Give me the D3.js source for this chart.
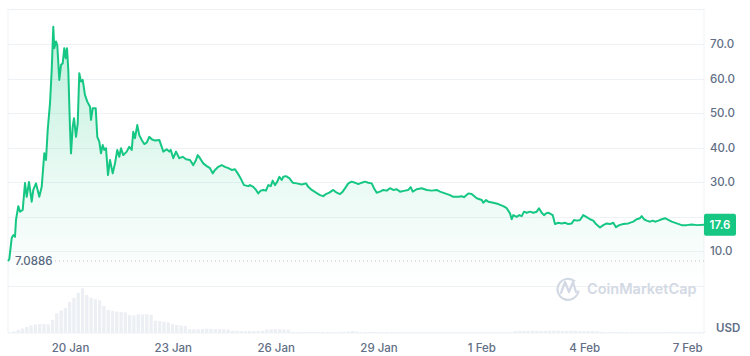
<!DOCTYPE html>
<html><head><meta charset="utf-8">
<script src="https://cdn.jsdelivr.net/npm/d3@7"></script>
<style>
body{margin:0;background:#fff}
svg{display:block;font-family:Inter,"Noto Sans",sans-serif}
</style>
</head><body>
<svg id="c" width="750" height="356"></svg>
<script>
// ---- data ----
const startTime = "2025-01-18T04:07:00Z";
const hoursFromStart = [0.5,1.4,3.1,4.2,5.4,6.1,7.7,8.9,10.8,12.4,13.6,15.2,17.1,18.2,20.1,22.4,24.1,25.9,27.1,28.3,29.9,31.1,32.2,32.9,34.1,35.0,36.4,37.6,38.8,39.9,40.9,41.8,42.7,43.9,44.6,45.8,46.7,48.1,49.3,50.4,51.6,52.8,54.4,56.0,57.9,58.6,59.8,61.9,63.0,64.4,
65.6,66.8,67.9,69.1,70.5,71.9,73.8,75.4,77.0,78.4,79.6,81.2,83.6,85.4,87.1,88.2,89.4,91.0,92.4,94.1,95.9,97.6,99.4,101.1,103.4,106.4,108.1,109.2,111.6,113.4,114.4,116.2,118.1,120.4,122.8,125.1,127.9,130.2,132.1,133.3,134.9,137.2,139.6,141.9,143.8,145.4,147.7,150.1,152.4,154.7,157.1,159.4,161.3,162.9,165.7,168.7,
169.9,172.2,174.1,175.7,177.4,179.2,181.1,182.7,184.4,185.8,187.4,189.0,190.4,192.1,193.2,195.1,197.4,199.8,202.6,206.1,209.1,210.7,213.1,216.1,218.9,221.2,223.1,225.4,228.2,230.6,232.9,234.8,237.1,238.7,241.1,243.4,245.7,248.1,250.4,252.7,255.1,256.7,258.6,260.9,263.2,265.6,267.9,270.2,272.6,274.9,278.4,280.7,282.4,283.8,286.6,290.1,293.6,297.1,300.6,302.9,306.4,309.9,312.2,315.7,318.1,319.7,322.7,325.1,
328.6,332.1,333.2,335.1,336.7,340.2,343.7,347.2,349.6,351.9,353.1,354.2,356.6,358.4,360.1,361.7,363.6,365.9,368.2,370.6,372.2,374.1,375.7,377.1,378.7,381.8,383.4,385.7,388.1,390.4,392.7,395.1,396.7,399.0,400.9,403.2,405.6,407.9,410.2,412.1,414.9,417.2,419.6,421.9,424.2,426.1,428.4,431.2,434.7,438.2,440.6,442.9,444.1,445.7,447.6,449.9,451.8,453.4,455.7,458.1,460.4,462.7,465.1,468.6,472.1,475.6,479.1,482.6,487.7];
const price = [7.0886,7.6,13.8,14.6,14.1,19.0,23.0,21.4,21.9,29.7,25.7,30.0,24.3,27.7,29.6,25.7,28.6,38.3,36.4,45.1,52.8,62.5,75.0,68.8,70.7,69.7,59.6,63.9,64.4,68.8,65.9,68.8,62.5,45.6,38.3,46.0,48.5,43.1,47.0,61.5,59.1,59.6,55.2,53.3,51.8,48.0,51.4,51.4,43.1,41.7,
38.3,40.7,39.3,39.8,32.0,36.4,32.5,35.4,39.3,37.3,39.8,37.8,38.8,40.2,39.3,44.6,42.7,46.5,43.6,42.2,41.0,41.4,43.1,42.4,42.0,42.2,40.2,38.8,39.5,38.8,39.3,36.9,38.8,36.9,37.3,36.6,36.4,34.9,36.4,37.8,36.9,35.4,34.6,34.0,32.5,33.5,34.4,34.9,34.4,34.0,33.5,33.7,32.5,31.4,29.1,28.8,
29.1,28.6,27.7,26.7,27.5,27.7,27.5,29.1,28.8,30.4,29.1,30.1,31.5,30.6,31.5,31.7,31.1,29.8,29.6,29.3,29.6,28.6,27.7,26.9,26.2,25.9,26.5,26.9,27.7,26.9,26.5,27.2,28.6,29.6,30.1,29.8,29.4,29.8,30.1,29.8,29.6,28.2,26.9,27.2,27.7,27.5,28.2,27.7,27.9,27.2,27.5,27.7,28.5,27.2,27.9,28.2,27.7,27.5,27.7,27.2,26.7,26.2,25.7,25.7,25.9,25.6,26.7,26.5,
25.3,24.8,24.0,24.8,24.3,24.0,23.6,23.0,22.4,20.9,19.2,20.4,19.9,20.4,20.1,21.4,21.1,21.4,21.1,21.4,22.4,21.1,20.4,20.9,21.1,20.4,17.8,18.2,18.0,18.2,17.8,18.0,19.0,18.8,19.0,20.4,19.8,19.2,18.8,17.8,16.8,17.5,18.0,17.8,18.2,16.9,17.5,17.8,18.0,18.5,19.2,19.5,20.1,19.2,18.8,18.5,18.8,18.5,18.8,19.2,19.5,19.0,18.5,18.0,17.5,17.5,17.7,17.5,17.6];
// volume per 3-hour bin (relative units)
const volumeBinHours = 3;
const volume = [0.5,1.5,3,4.5,6,7.5,8.5,9,9,8.5,
13,19.5,22.5,25,31,35,40,44.5,38,35,
33.5,32.5,27,23,22,21.3,21,20.5,18,17.5,
18.7,18.5,18.7,18.2,12.3,11.8,11.2,10.5,9,8,
7.5,7,3.7,3.7,3.6,4,4.3,4.2,4,3.8,
3.7,3.5,2.3,2.2,2,2.1,2,1.9,2,2.2,
3.5,3.7,3.8,3.7,3.5,3.2,1.2,1,1.1,1,
1,0.9,1,1.1,1,1,0.9,1,1.2,1.5,
2,1.5,1,1,1.1,1,0.9,1,1,1,
1,0.9,0.7,0.7,0.8,0.7,0.7,0.6,0.7,0.7,
0.8,0.7,0.7,0.7,0.6,0.7,0.7,0.8,0.7,0.7,
0.7,0.7,0.6,0.7,0.7,0.8,0.8,0.9,2,2.2,
2.1,2,2.3,2.2,2,2.1,2.3,2.4,2.2,2,
2.1,2.3,2.2,2,1.9,2.1,2,1.8,1.1,1,
1,0.9,1,1.1,1,1,0.9,1,1,1.1,
1,1,0.9,1,1,1.2,1.1,1,1,1,
0.9,1,1];
const yTicks = [10,20,30,40,50,60,70];
const xTickDates = ["2025-01-20","2025-01-23","2025-01-26","2025-01-29","2025-02-01","2025-02-04","2025-02-07"];
const openPrice = 7.0886;
const lastPrice = 17.6;
const currencyLabel = "USD";
const watermark = "CoinMarketCap";

// ---- layout ----
const W = 750, H = 356;
const L = 8, R = 704, T = 9.5, B = 333;
const priceBottom = 285.5;
const green = "#16c784";
const grid = "#eff2f5";
const txt = "#616e85";

const t0 = new Date(startTime);
const toDate = h => new Date(t0.getTime() + h * 3600e3);
const data = hoursFromStart.map((h, i) => ({t: toDate(h), v: price[i]}));

const x = d3.scaleUtc()
  .domain([toDate(hoursFromStart[0]), toDate(hoursFromStart[hoursFromStart.length - 1])])
  .range([L, R]);
const y = d3.scaleLinear().domain([0, 80]).range([priceBottom, T]);
const yv = d3.scaleLinear().domain([0, d3.max(volume)]).range([B, 288.3]);

const svg = d3.select("#c");
const defs = svg.append("defs");
const grad = defs.append("linearGradient").attr("id", "fillg")
  .attr("gradientUnits", "userSpaceOnUse").attr("x1", 0).attr("x2", 0)
  .attr("y1", y(75)).attr("y2", priceBottom);
grad.append("stop").attr("offset", 0).attr("stop-color", green).attr("stop-opacity", 0.28);
grad.append("stop").attr("offset", 0.6).attr("stop-color", green).attr("stop-opacity", 0.09);
grad.append("stop").attr("offset", 1).attr("stop-color", green).attr("stop-opacity", 0.0);

// frame
svg.append("rect").attr("x", L).attr("y", T).attr("width", R - L).attr("height", B - T)
  .attr("fill", "none").attr("stroke", grid).attr("stroke-width", 1);

// gridlines
svg.append("g").selectAll("line").data(yTicks.concat([0])).join("line")
  .attr("x1", L).attr("x2", R).attr("y1", d => Math.round(y(d)) + 0.5).attr("y2", d => Math.round(y(d)) + 0.5)
  .attr("stroke", grid).attr("stroke-width", 1);

// volume bars
const binW = x(toDate(volumeBinHours)) - x(toDate(0));
svg.append("g").selectAll("rect").data(volume).join("rect")
  .attr("x", (d, i) => x(toDate(hoursFromStart[0] + i * volumeBinHours)))
  .attr("width", Math.max(1, binW - 1))
  .attr("y", d => yv(d))
  .attr("height", d => B - yv(d))
  .attr("fill", "#eceff3");

// watermark
const wm = svg.append("g").attr("fill", "none").attr("stroke", "#d3d9e4").attr("stroke-width", 2.2);
wm.append("path").attr("d", "M578.5,290.5 A10.5,10.5 0 1 1 575,281.5");
wm.append("path").attr("d", "M561,293 L565,282 L569,292 L573,282 L576,292")
  .attr("stroke-linejoin", "round").attr("stroke-linecap", "round");
svg.append("text").attr("x", 587).attr("y", 293.5).text(watermark)
  .attr("font-size", 14.5).attr("font-weight", 600).attr("fill", "#d3d9e4");

// area + line
svg.append("path").datum(data)
  .attr("d", d3.area().x(d => x(d.t)).y0(priceBottom).y1(d => y(d.v)))
  .attr("fill", "url(#fillg)");
svg.append("path").datum(data)
  .attr("d", d3.line().x(d => x(d.t)).y(d => y(d.v)))
  .attr("fill", "none").attr("stroke", green).attr("stroke-width", 2).attr("stroke-linejoin", "round");

// open price reference
svg.append("line").attr("x1", 55).attr("x2", R).attr("y1", y(openPrice)).attr("y2", y(openPrice))
  .attr("stroke", "#cbbfc4").attr("stroke-width", 1).attr("stroke-dasharray", "1,3");
svg.append("text").attr("x", 15).attr("y", y(openPrice) + 4).text(openPrice.toFixed(4))
  .attr("font-size", 11.5).attr("font-weight", 500).attr("fill", "#58667e");

// y labels
const yLast = y(lastPrice);
svg.append("g").selectAll("text").data(yTicks.filter(d => Math.abs(y(d) - yLast) > 14)).join("text")
  .attr("x", 710).attr("y", d => y(d) + 4).text(d => d.toFixed(1))
  .attr("font-size", 11.5).attr("font-weight", 500).attr("fill", txt);

// last price badge
svg.append("rect").attr("x", R).attr("y", yLast - 11).attr("width", 32).attr("height", 22).attr("rx", 2)
  .attr("fill", green);
svg.append("text").attr("x", R + 16).attr("y", yLast + 4).attr("text-anchor", "middle").text(lastPrice.toFixed(1))
  .attr("font-size", 11.5).attr("font-weight", 600).attr("fill", "#fff");

// currency label
svg.append("text").attr("x", 716).attr("y", 332).text(currencyLabel)
  .attr("font-size", 11.5).attr("font-weight", 600).attr("fill", txt);

// x axis
const xAxis = d3.axisBottom(x).tickValues(xTickDates.map(s => new Date(s + "T00:00:00Z")))
  .tickFormat(d3.utcFormat("%-d %b")).tickSize(0).tickPadding(0);
const gx = svg.append("g").attr("transform", `translate(0,${B + 11})`).call(xAxis);
gx.select(".domain").remove();
gx.selectAll("text").attr("font-size", 11.5).attr("font-family", "Inter,'Noto Sans',sans-serif")
  .attr("font-weight", 500).attr("fill", txt);
</script>
</body></html>
